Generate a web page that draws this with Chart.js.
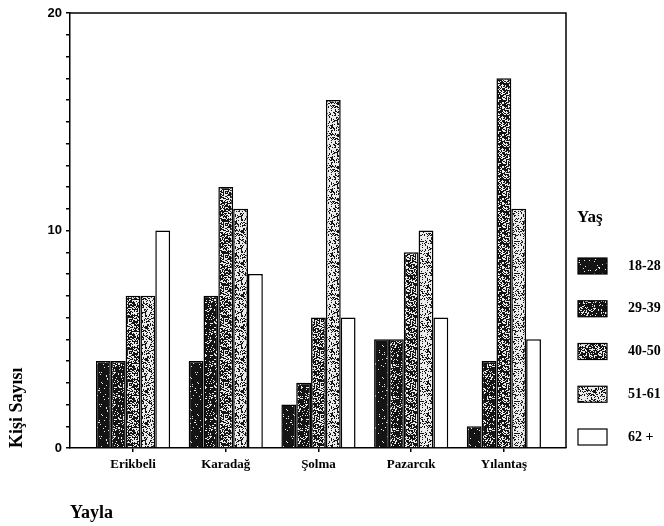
<!DOCTYPE html>
<html>
<head>
<meta charset="utf-8">
<script src="https://cdn.jsdelivr.net/npm/chart.js@4.4.0/dist/chart.umd.min.js"></script>
<style>
html, body { margin: 0; padding: 0; background: #fff; }
</style>
</head>
<body>
<canvas id="grafik" width="664" height="526"></canvas>
<script>
// veriler
var yaylalar = ['Erikbeli', 'Karadağ', 'Şolma', 'Pazarcık', 'Yılantaş']
var yasGruplari = ['18-28', '29-39', '40-50', '51-61', '62 +']
var yas18_28 = [4, 4, 2, 5, 1]
var yas29_39 = [4, 7, 3, 5, 4]
var yas40_50 = [7, 12, 6, 9, 17]
var yas51_61 = [7, 11, 16, 10, 11]
var yas62 = [10, 8, 6, 6, 5]
var yTikler = [0, 10, 20]

var seriler = [yas18_28, yas29_39, yas40_50, yas51_61, yas62]

// benekli doku (taranmis baski gorunumu), sabit hash ile
function doku(acikOran)
{
    var c = document.createElement('canvas')
    c.width = 32; c.height = 32
    var g = c.getContext('2d')
    var img = g.createImageData(32, 32)
    for (var y = 0; y < 32; y++)
    {
        for (var x = 0; x < 32; x++)
        {
            var h = Math.sin(x * 12.9898 + y * 78.233) * 43758.5453
            h = h - Math.floor(h)
            var v = h < acikOran ? 235 : 20
            var k = (y * 32 + x) * 4
            img.data[k] = v; img.data[k + 1] = v; img.data[k + 2] = v; img.data[k + 3] = 255
        }
    }
    g.putImageData(img, 0, 0)
    return g.createPattern(c, 'repeat')
}

var dolgular = [doku(0.05), doku(0.2), doku(0.42), doku(0.68), '#ffffff']

var cerceve = {
    id: 'cerceve',
    afterDraw: function(chart)
    {
        var ctx = chart.ctx
        var a = chart.chartArea
        ctx.save()
        ctx.strokeStyle = '#000'
        ctx.lineWidth = 1.5
        ctx.beginPath()
        ctx.moveTo(a.left, a.top)
        ctx.lineTo(a.right, a.top)
        ctx.lineTo(a.right, a.bottom)
        ctx.stroke()

        // lejant
        var lx = a.right + 12
        ctx.fillStyle = '#000'
        ctx.textBaseline = 'middle'
        ctx.font = 'bold 17px "Liberation Serif"'
        ctx.fillText('Yaş', lx - 1, 218)
        ctx.font = 'bold 14px "Liberation Serif"'
        yasGruplari.forEach(function(ad, i)
        {
            var yy = 266 + i * 42.75
            ctx.fillStyle = dolgular[i]
            ctx.fillRect(lx, yy - 8, 29, 16)
            ctx.lineWidth = 1.2
            ctx.strokeRect(lx, yy - 8, 29, 16)
            ctx.fillStyle = '#000'
            ctx.fillText(ad, lx + 50, yy)
        })
        ctx.restore()
    }
}

var ctx = document.getElementById('grafik')
var grafik = new Chart(ctx,
    {
        type: 'bar',
        data:
            {
                datasets: seriler.map(function(s, i)
                {
                    return {
                        label: yasGruplari[i],
                        data: s.map(function(v, j) { return { x: j, y: v } }),
                        backgroundColor: dolgular[i],
                        borderColor: '#000',
                        borderWidth: 1.5,
                        categoryPercentage: 0.8,
                        barPercentage: 1.0
                    }
                })
            },
        options:
            {
                responsive: false,
                animation: false,
                devicePixelRatio: 1,
                layout: { padding: { top: 13, right: 98, left: 0, bottom: 0 } },
                plugins:
                    {
                        legend: { display: false },
                        tooltip: { enabled: false }
                    },
                scales:
                    {
                        x:
                            {
                                type: 'linear',
                                offset: false,
                                min: -0.68,
                                max: 4.67,
                                afterBuildTicks: function(s)
                                {
                                    s.ticks = yaylalar.map(function(_, i) { return { value: i } })
                                },
                                afterFit: function(s) { s.height = 78 },
                                ticks:
                                    {
                                        autoSkip: false,
                                        maxRotation: 0,
                                        padding: 5,
                                        color: '#000',
                                        font: { family: 'Liberation Serif', size: 13, weight: 'bold' },
                                        callback: function(v) { return yaylalar[v] }
                                    },
                                grid: { offset: false, drawOnChartArea: false, tickLength: 4, color: '#000', lineWidth: 1.5 },
                                border: { color: '#000', width: 1.5 },
                                title:
                                    {
                                        display: true,
                                        text: 'Yayla',
                                        align: 'start',
                                        padding: { bottom: 2 },
                                        color: '#000',
                                        font: { family: 'Liberation Serif', size: 18, weight: 'bold' }
                                    }
                            },
                        y:
                            {
                                min: 0,
                                max: 20,
                                afterFit: function(s) { s.width = 70 },
                                ticks:
                                    {
                                        stepSize: 1,
                                        autoSkip: false,
                                        padding: 4,
                                        color: '#000',
                                        font: { family: 'Liberation Sans', size: 13, weight: 'bold' },
                                        callback: function(v) { return yTikler.indexOf(v) >= 0 ? v : '' }
                                    },
                                grid: { drawOnChartArea: false, tickLength: 4, color: '#000', lineWidth: 1.5 },
                                border: { color: '#000', width: 1.5 },
                                title:
                                    {
                                        display: true,
                                        text: 'Kişi Sayısı',
                                        align: 'start',
                                        padding: { top: 7 },
                                        color: '#000',
                                        font: { family: 'Liberation Serif', size: 18, weight: 'bold' }
                                    }
                            }
                    }
            },
        plugins: [cerceve]
    })
</script>
</body>
</html>
